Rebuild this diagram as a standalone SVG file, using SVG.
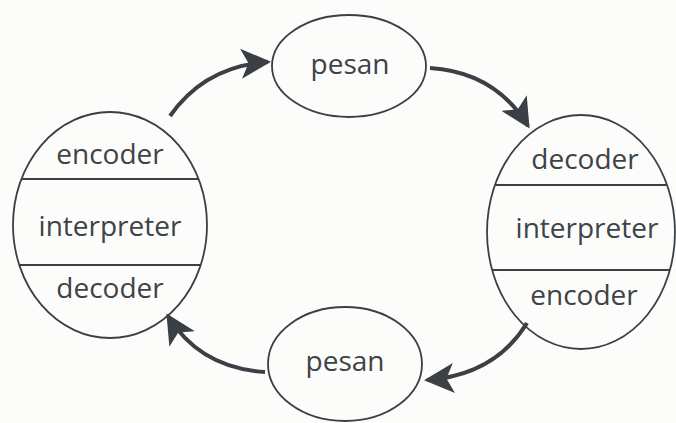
<svg xmlns="http://www.w3.org/2000/svg" width="676" height="423" viewBox="0 0 676 423">
  <defs>
    <marker id="head" viewBox="0 0 10 10" refX="9" refY="5" markerWidth="7.5" markerHeight="7.5" markerUnits="strokeWidth" orient="auto">
      <path d="M0,0 L10,5 L0,10 L2.5,5 Z" fill="#3b4045"/>
    </marker>
  </defs>
  <style>
    .shape { fill: none; stroke: #3b4045; stroke-width: 1.8; }
    .label { font-family: "Open Sans", "Noto Sans", sans-serif; font-size: 28px; fill: #3e4347; text-anchor: middle; }
    .flow { fill: none; stroke: #3b4045; stroke-width: 4; marker-end: url(#head); }
  </style>
  <rect width="676" height="423" fill="#fcfcfb"/>

  <!-- communicator A -->
  <g id="communicator-left">
    <ellipse class="shape" cx="110" cy="225" rx="97" ry="113"/>
    <line class="shape" x1="21.4" y1="179" x2="198.6" y2="179"/>
    <line class="shape" x1="19.3" y1="265" x2="200.7" y2="265"/>
    <text class="label" x="110" y="164">encoder</text>
    <text class="label" x="110" y="236">interpreter</text>
    <text class="label" x="110" y="298">decoder</text>
  </g>

  <!-- communicator B -->
  <g id="communicator-right">
    <ellipse class="shape" cx="581" cy="232" rx="94" ry="117"/>
    <line class="shape" x1="495" y1="185" x2="667" y2="185"/>
    <line class="shape" x1="492" y1="270" x2="670" y2="270"/>
    <text class="label" x="585" y="169">decoder</text>
    <text class="label" x="587" y="238">interpreter</text>
    <text class="label" x="584" y="305">encoder</text>
  </g>

  <g id="message-top">
    <ellipse class="shape" cx="349" cy="66" rx="77" ry="51"/>
    <text class="label" x="350" y="74">pesan</text>
  </g>

  <g id="message-bottom">
    <ellipse class="shape" cx="345" cy="364" rx="77" ry="57"/>
    <text class="label" x="345" y="371">pesan</text>
  </g>

  <g id="connectors">
    <path class="flow" d="M170,116 Q205,66 268,62"/>
    <path class="flow" d="M430,68 Q495,72 528,126"/>
    <path class="flow" d="M527,323 Q495,375 427,380"/>
    <path class="flow" d="M265,372 Q200,368 168,316"/>
  </g>
</svg>
